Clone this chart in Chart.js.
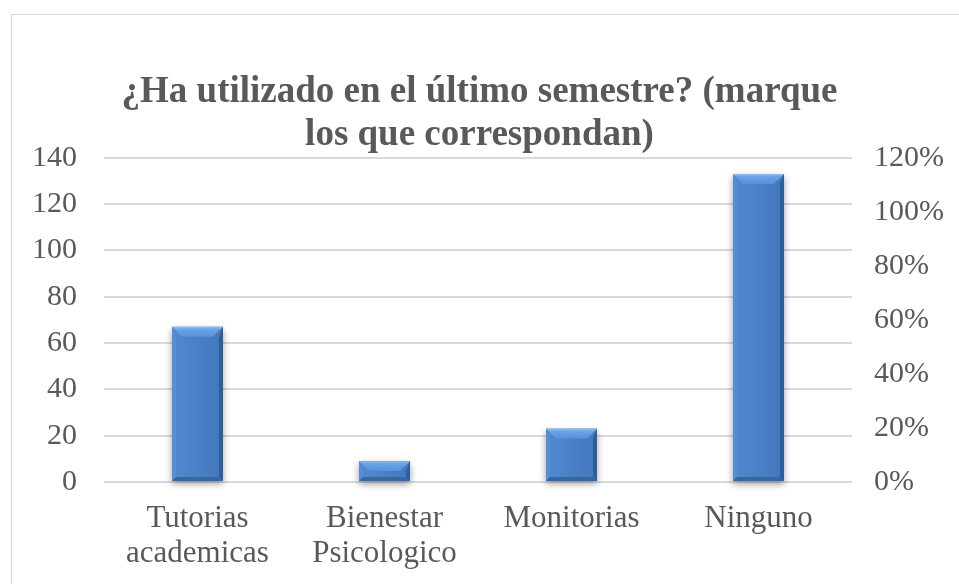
<!DOCTYPE html>
<html>
<head>
<meta charset="utf-8">
<script src="https://cdn.jsdelivr.net/npm/chart.js@4"></script>
<style>
  html, body { margin: 0; padding: 0; background: #fff; }
  #wrap { position: relative; width: 959px; height: 584px; overflow: hidden; }
  #frame { position: absolute; left: 11px; top: 14px; width: 960px; height: 600px; border: 1px solid #d9d9d9; box-sizing: border-box; }
  #chart { position: absolute; left: 0; top: 0; }
</style>
</head>
<body>
<div id="wrap">
  <div id="frame"></div>
  <canvas id="chart" width="959" height="584"></canvas>
</div>
<script>
const titleLines = ['¿Ha utilizado en el último semestre? (marque', 'los que correspondan)'];
const categories = [['Tutorias', 'academicas'], ['Bienestar', 'Psicologico'], ['Monitorias'], ['Ninguno']];
const counts = [67, 9, 23, 133];
const leftTicks = [0, 20, 40, 60, 80, 100, 120, 140];
const rightTicks = [0, 0.2, 0.4, 0.6, 0.8, 1.0, 1.2];

const textGray = '#595959';
const serif = "'Liberation Serif', 'Times New Roman', serif";

// bevelled bars with a soft shadow underneath
const bevelBars = {
    id: 'bevelBars',
    afterDatasetsDraw(chart) {
        const ctx = chart.ctx;
        const meta = chart.getDatasetMeta(0);
        meta.data.forEach(function (bar) {
            const p = bar.getProps(['x', 'y', 'base', 'width'], true);
            const x0 = p.x - p.width / 2, x1 = p.x + p.width / 2;
            const y0 = p.y, y1 = p.base;
            const h = y1 - y0;
            const b = Math.min(10, h / 2);
            const s = Math.min(4, h / 2);

            ctx.save();
            ctx.shadowColor = 'rgba(0,0,0,0.4)';
            ctx.shadowBlur = 7;
            ctx.shadowOffsetY = 3;
            ctx.fillStyle = '#4a7fc6';
            ctx.fillRect(x0, y0, x1 - x0, h);
            ctx.restore();

            ctx.save();
            const body = ctx.createLinearGradient(x0, 0, x1, 0);
            body.addColorStop(0, '#5189cf');
            body.addColorStop(0.5, '#4a80c7');
            body.addColorStop(1, '#4377bd');
            ctx.fillStyle = body;
            ctx.fillRect(x0, y0, x1 - x0, h);

            // top bevel
            const top = ctx.createLinearGradient(0, y0, 0, y0 + b);
            top.addColorStop(0, '#8fc0f2');
            top.addColorStop(0.25, '#6ba4e6');
            top.addColorStop(1, '#5590d8');
            ctx.fillStyle = top;
            ctx.beginPath();
            ctx.moveTo(x0, y0);
            ctx.lineTo(x1, y0);
            ctx.lineTo(x1 - b, y0 + b);
            ctx.lineTo(x0 + b, y0 + b);
            ctx.closePath();
            ctx.fill();

            // left bevel
            ctx.fillStyle = '#568ed3';
            ctx.beginPath();
            ctx.moveTo(x0, y0);
            ctx.lineTo(x0 + s, y0 + b);
            ctx.lineTo(x0 + s, y1 - s);
            ctx.lineTo(x0, y1);
            ctx.closePath();
            ctx.fill();

            // right bevel
            ctx.fillStyle = '#2f5e9c';
            ctx.beginPath();
            ctx.moveTo(x1, y0);
            ctx.lineTo(x1 - s, y0 + b);
            ctx.lineTo(x1 - s, y1 - s);
            ctx.lineTo(x1, y1);
            ctx.closePath();
            ctx.fill();

            // bottom bevel
            ctx.fillStyle = '#36679f';
            ctx.beginPath();
            ctx.moveTo(x0, y1);
            ctx.lineTo(x0 + s, y1 - s);
            ctx.lineTo(x1 - s, y1 - s);
            ctx.lineTo(x1, y1);
            ctx.closePath();
            ctx.fill();
            ctx.restore();
        });
    }
};

new Chart(document.getElementById('chart'), {
    type: 'bar',
    data: {
        labels: categories,
        datasets: [{
            data: counts,
            backgroundColor: 'rgba(0,0,0,0)',
            borderWidth: 0,
            barThickness: 51,
            yAxisID: 'y'
        }]
    },
    options: {
        responsive: false,
        animation: false,
        events: [],
        layout: { padding: 0 },
        scales: {
            x: {
                grid: { display: false, drawTicks: false },
                border: { display: false },
                ticks: {
                    color: textGray,
                    font: { family: serif, size: 31, lineHeight: 1.13 },
                    padding: 19,
                    maxRotation: 0,
                    autoSkip: false
                },
                afterFit(scale) { scale.height = 102; }
            },
            y: {
                position: 'left',
                min: 0,
                max: 140,
                afterBuildTicks(scale) { scale.ticks = leftTicks.map(v => ({ value: v })); },
                grid: { color: '#d9d9d9', lineWidth: 2, drawTicks: false },
                border: { display: false },
                ticks: {
                    color: textGray,
                    font: { family: serif, size: 30 },
                    padding: 27
                },
                afterFit(scale) { scale.width = 104; }
            },
            y1: {
                position: 'right',
                min: 0,
                max: 1.2,
                afterBuildTicks(scale) { scale.ticks = rightTicks.map(v => ({ value: v })); },
                grid: { display: false, drawTicks: false },
                border: { display: false },
                ticks: {
                    color: textGray,
                    font: { family: serif, size: 30 },
                    padding: 22,
                    callback: v => Math.round(v * 100) + '%'
                },
                afterFit(scale) { scale.width = 107; }
            }
        },
        plugins: {
            legend: { display: false },
            tooltip: { enabled: false },
            title: {
                display: true,
                text: titleLines,
                color: textGray,
                font: { family: serif, size: 37, weight: 'bold', lineHeight: 1.16 },
                padding: { top: 71, bottom: 1 }
            }
        }
    },
    plugins: [bevelBars]
});
</script>
</body>
</html>
